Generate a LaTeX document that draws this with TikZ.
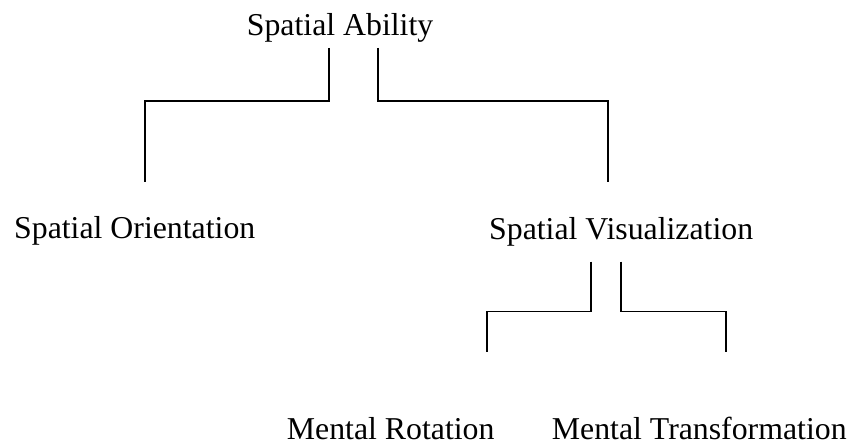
\documentclass[tikz,border=0pt]{standalone}
\usepackage{fontspec}
\setmainfont{Liberation Serif}
\usepackage{tikz}

\tikzset{
  label/.style={anchor=base west, inner sep=0pt, text depth=0pt, font=\fontsize{31.8}{38}\selectfont},
  branch/.style={line width=1.8pt}
}

\begin{document}
\begin{tikzpicture}[x=1pt, y=-1pt]
            \useasboundingbox (0,0) rectangle (853,443);
            %\draw (0,0) rectangle (853,443);
            \node[label] (ability) at (246.7,36) {Spatial Ability};
            \node[label] (orient) at (14,239) {Spatial Orientation};
            \node[label] (visual) at (489,240) {Spatial Visualization};
            \node[label] (rotate) at (286.7,439) {Mental Rotation};
            \node[label] (transf) at (551.7,439) {Mental Transformation};

            \coordinate (abL) at (329,48);
            \coordinate (abR) at (378,48);
            \coordinate (orTop) at (145,182);
            \coordinate (viTop) at (608,182);
            \coordinate (viL) at (591,261.7);
            \coordinate (viR) at (621,261.7);
            \coordinate (roTop) at (486.7,352.3);
            \coordinate (trTop) at (725.7,352.3);

            \draw[branch] (abL) -- (329,100.7) -| (orTop);
            \draw[branch] (abR) -- (378,100.7) -| (viTop);
            \draw[branch] (viL) -- (591,311.5) -| (roTop);
            \draw[branch] (viR) -- (621,311.5) -| (trTop);
\end{tikzpicture}
\end{document}
